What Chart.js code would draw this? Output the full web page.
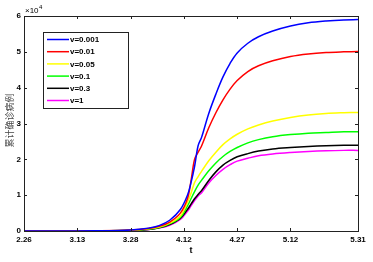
<!DOCTYPE html>
<html>
<head>
<meta charset="utf-8">
<script src="https://cdn.jsdelivr.net/npm/chart.js@4/dist/chart.umd.min.js"></script>
<style>
html,body{margin:0;padding:0;background:#fff;}
#wrap{width:373px;height:262px;position:relative;}
</style>
</head>
<body>
<div id="wrap"><canvas id="c" width="373" height="262"></canvas></div>
<script>
// day index from 2.26
const t = [0,10,20,30,35,38,41,44,46,47,48,49,50,52,54,56,58,60,63,66,70,75,80,85,90,94];
// cumulative confirmed cases, units of 1e4
const v0001 = [0,0,0.005,0.03,0.08,0.15,0.3,0.6,1.0,1.35,1.8,2.38,2.62,3.28,3.82,4.3,4.68,4.97,5.24,5.42,5.58,5.72,5.81,5.86,5.89,5.9];
const v001  = [0,0,0.004,0.025,0.07,0.13,0.25,0.5,0.9,1.4,2.0,2.2,2.38,2.88,3.3,3.66,3.96,4.2,4.45,4.61,4.75,4.87,4.94,4.98,5.0,5.01];
const v005  = [0,0,0.003,0.02,0.06,0.11,0.22,0.42,0.8,1.05,1.35,1.52,1.67,1.96,2.2,2.41,2.57,2.7,2.85,2.96,3.07,3.17,3.24,3.28,3.3,3.31];
const v01   = [0,0,0.003,0.018,0.05,0.1,0.2,0.38,0.7,0.9,1.1,1.28,1.42,1.68,1.9,2.08,2.22,2.33,2.46,2.55,2.63,2.69,2.73,2.75,2.77,2.77];
const v03   = [0,0,0.003,0.015,0.045,0.09,0.18,0.35,0.6,0.75,0.9,1.02,1.13,1.41,1.65,1.84,1.97,2.07,2.16,2.23,2.29,2.33,2.36,2.38,2.39,2.39];
const v1    = [0,0,0.002,0.012,0.04,0.08,0.16,0.32,0.55,0.7,0.85,0.98,1.07,1.34,1.55,1.72,1.85,1.95,2.03,2.1,2.15,2.19,2.22,2.24,2.25,2.25];
const seriesNames = ['v=0.001','v=0.01','v=0.05','v=0.1','v=0.3','v=1'];
const seriesColors = ['#0000ff','#ff0000','#ffff00','#00ff00','#000000','#ff00ff'];
const xTickPos = [0,15,30,45,60,75,94];
const xTickLabels = ['2.26','3.13','3.28','4.12','4.27','5.12','5.31'];
const yTicks = [0,1,2,3,4,5,6];

const seriesVals = [v0001,v001,v005,v01,v03,v1];
const datasets = seriesVals.map((vals,i)=>({
  label: seriesNames[i],
  data: t.map((x,j)=>({x:x,y:vals[j]})),
  borderColor: seriesColors[i],
  backgroundColor: seriesColors[i],
  borderWidth: 1.5,
  pointRadius: 0,
  tension: 0.35,
  fill: false
}));

const FONT = '"Liberation Sans", Arial, sans-serif';

const decor = {
  id:'decor',
  afterDraw(chart){
    const ctx = chart.ctx;
    const a = chart.chartArea;
    const xs = chart.scales.x, ys = chart.scales.y;
    ctx.save();
    ctx.strokeStyle = '#222';
    ctx.lineWidth = 1;
    ctx.strokeRect(Math.round(a.left)+0.5, Math.round(a.top)+0.5, Math.round(a.right-a.left), Math.round(a.bottom-a.top));
    ctx.beginPath();
    xTickPos.forEach(p=>{
      const px = Math.round(xs.getPixelForValue(p))+0.5;
      ctx.moveTo(px,a.bottom); ctx.lineTo(px,a.bottom-3);
      ctx.moveTo(px,a.top); ctx.lineTo(px,a.top+3);
    });
    yTicks.forEach(v=>{
      const py = Math.round(ys.getPixelForValue(v))+0.5;
      ctx.moveTo(a.left,py); ctx.lineTo(a.left+3,py);
      ctx.moveTo(a.right,py); ctx.lineTo(a.right-3,py);
    });
    ctx.stroke();
    ctx.fillStyle = '#000';
    ctx.font = '8px ' + FONT;
    ctx.textBaseline = 'alphabetic';
    ctx.textAlign = 'left';
    ctx.fillText('\u00d710', a.left+1, a.top-3);
    ctx.font = '6px ' + FONT;
    ctx.fillText('4', a.left+15, a.top-7);
    ctx.save();
    ctx.translate(10, (a.top+a.bottom)/2 - 3);
    ctx.rotate(-Math.PI/2);
    ctx.font = '9px "Noto Sans CJK SC", sans-serif';
    ctx.fillStyle = '#444';
    ctx.textAlign = 'center';
    ctx.textBaseline = 'middle';
    ctx.fillText('累计确诊病例', 0, 0);
    ctx.restore();
    ctx.font = 'bold 9px ' + FONT;
    ctx.fillStyle = '#000';
    ctx.textAlign = 'center';
    ctx.textBaseline = 'middle';
    ctx.fillText('t', (a.left+a.right)/2, 251);
    const lx = 43, ly = 32, lw = 85, lh = 76;
    ctx.fillStyle = '#fff';
    ctx.fillRect(lx, ly, lw, lh);
    ctx.strokeStyle = '#222';
    ctx.strokeRect(lx+0.5, ly+0.5, lw, lh);
    chart.data.datasets.forEach((ds,i)=>{
      const y = 39.5 + i*12.2;
      ctx.strokeStyle = ds.borderColor;
      ctx.lineWidth = 1.5;
      ctx.beginPath();
      ctx.moveTo(47, y); ctx.lineTo(69, y);
      ctx.stroke();
      ctx.fillStyle = '#000';
      ctx.font = 'bold 8px ' + FONT;
      ctx.textAlign = 'left';
      ctx.textBaseline = 'middle';
      ctx.fillText(ds.label, 70, y+0.5);
    });
    ctx.restore();
  }
};

new Chart(document.getElementById('c'), {
  type: 'line',
  data: { datasets },
  options: {
    responsive: false,
    animation: false,
    devicePixelRatio: 1,
    layout: { padding: { top: 16, right: 15, left: 0, bottom: 0 } },
    plugins: { legend: { display: false }, tooltip: { enabled: false }, title: { display: false } },
    scales: {
      x: {
        type: 'linear', min: 0, max: 94,
        afterBuildTicks: s => { s.ticks = xTickPos.map(v=>({value:v})); },
        afterFit: s => { s.height = 31; },
        grid: { display: false, drawTicks: false },
        border: { display: false },
        ticks: {
          autoSkip: false, maxRotation: 0, padding: 4, color: '#000',
          font: { family: FONT, size: 8, weight: 'bold' },
          callback: (v) => { const i = xTickPos.indexOf(v); return i >= 0 ? xTickLabels[i] : ''; }
        }
      },
      y: {
        type: 'linear', min: 0, max: 6,
        afterBuildTicks: s => { s.ticks = yTicks.map(v=>({value:v})); },
        afterFit: s => { s.width = 24; },
        grid: { display: false, drawTicks: false },
        border: { display: false },
        ticks: {
          padding: 3, color: '#000',
          font: { family: FONT, size: 8, weight: 'bold' }
        }
      }
    }
  },
  plugins: [decor]
});
</script>
</body>
</html>
